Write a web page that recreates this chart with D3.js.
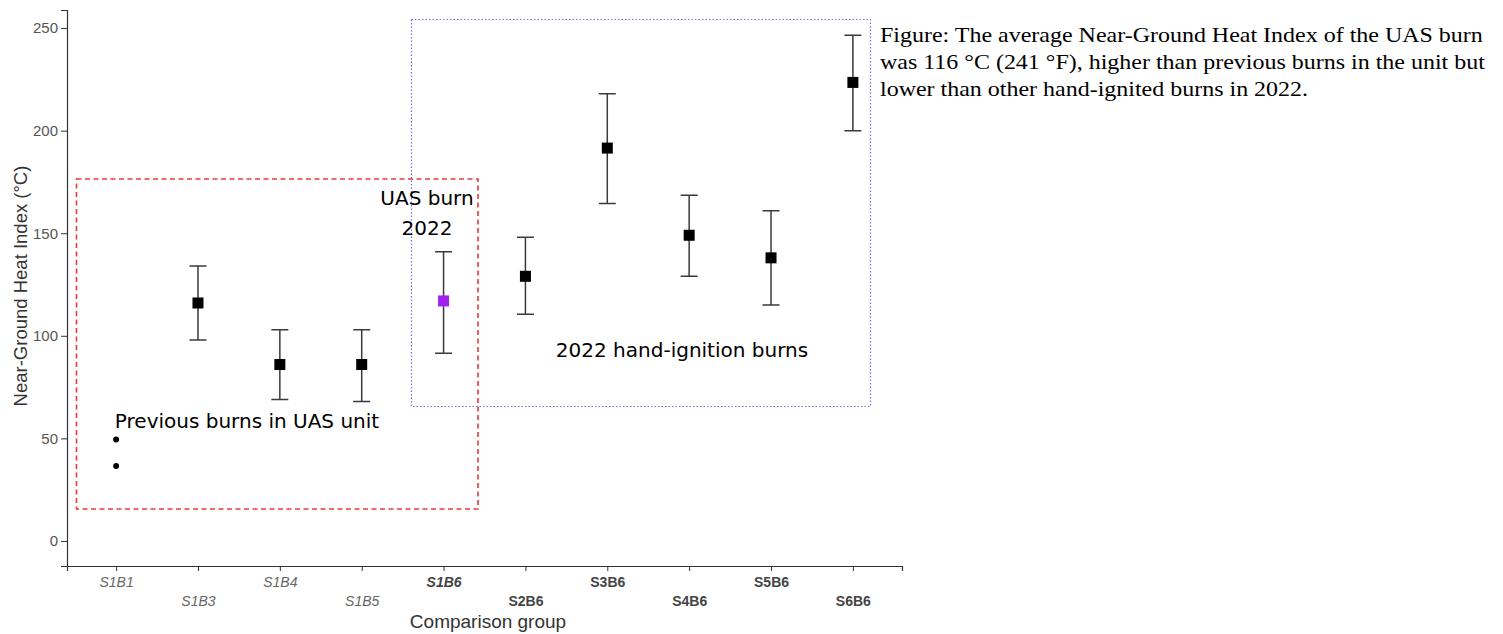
<!DOCTYPE html>
<html>
<head>
<meta charset="utf-8">
<script src="https://cdn.jsdelivr.net/npm/d3@7"></script>
<style>
  body { margin: 0; background: #fff; }
  svg { display: block; }
</style>
</head>
<body>
<div id="chart"></div>
<script>
// Comparison groups and their near-ground heat index (°C)
const groups = ["S1B1", "S1B3", "S1B4", "S1B5", "S1B6", "S2B6", "S3B6", "S4B6", "S5B6", "S6B6"];
const means  = [null, 116, 86, 86, 117, 129, 191.5, 149, 138, 223.5];
const lower  = [null, 98, 69, 68, 91.5, 110.5, 164.5, 129, 115, 200];
const upper  = [null, 134, 103, 103, 141, 148, 218, 168.5, 161, 246.5];
// S1B1 only has single observations
const s1b1Points = [49.5, 36.5];
const yTicks = [0, 50, 100, 150, 200, 250];

const W = 1503, H = 634;
const axisFont = "'Liberation Sans', Arial, sans-serif";

const svg = d3.select("#chart")
  .append("svg")
  .attr("width", W)
  .attr("height", H);

// Scales (discrete x with ggplot-like expansion)
const x = d3.scalePoint()
  .domain(groups)
  .range([67, 902])
  .padding(0.6);

const y = d3.scaleLinear()
  .domain([-12.2, 258.8])
  .range([566, 10]);

// Y axis
const yAxis = svg.append("g")
  .attr("transform", "translate(67,0)")
  .call(d3.axisLeft(y).tickValues(yTicks).tickSize(6).tickPadding(3));
yAxis.select(".domain").attr("stroke", "#333").attr("stroke-width", 1.2);
yAxis.selectAll(".tick line").attr("stroke", "#333");
yAxis.selectAll("text")
  .attr("fill", "#555")
  .style("font-family", axisFont)
  .style("font-size", "15px");

// X axis, labels staggered over two rows
const xAxis = svg.append("g")
  .attr("transform", "translate(0,566)")
  .call(d3.axisBottom(x).tickSize(5));
xAxis.select(".domain").attr("stroke", "#333").attr("stroke-width", 1.2);
xAxis.selectAll(".tick line").attr("stroke", "#333");
xAxis.selectAll("text")
  .attr("y", (d, i) => i % 2 === 0 ? 21 : 40)
  .attr("dy", 0)
  .attr("fill", d => d.startsWith("S1B") && d !== "S1B6" ? "#666" : "#444")
  .style("font-family", axisFont)
  .style("font-size", "14px")
  .style("font-style", d => d.startsWith("S1B") ? "italic" : "normal")
  .style("font-weight", d => d.startsWith("S1B") && d !== "S1B6" ? "normal" : "bold");

// Axis titles
svg.append("text")
  .attr("x", 488)
  .attr("y", 628)
  .attr("text-anchor", "middle")
  .attr("fill", "#333")
  .style("font-family", axisFont)
  .style("font-size", "19px")
  .text("Comparison group");

svg.append("text")
  .attr("transform", "rotate(-90)")
  .attr("x", -286)
  .attr("y", 27)
  .attr("text-anchor", "middle")
  .attr("fill", "#333")
  .style("font-family", axisFont)
  .style("font-size", "18.5px")
  .text("Near-Ground Heat Index (°C)");

// Annotation boxes
svg.append("rect")
  .attr("x", 411.5).attr("y", 19.5)
  .attr("width", 459).attr("height", 387)
  .attr("fill", "none")
  .attr("stroke", "#7070ee")
  .attr("stroke-width", 1.2)
  .attr("stroke-dasharray", "1.5,2");

svg.append("rect")
  .attr("x", 76.5).attr("y", 179)
  .attr("width", 401.5).attr("height", 330)
  .attr("fill", "none")
  .attr("stroke", "#e83a3a")
  .attr("stroke-width", 1.6)
  .attr("stroke-dasharray", "5,3.5");

// Error bars
const bars = groups.map((g, i) => ({ g, mean: means[i], lo: lower[i], hi: upper[i] }))
  .filter(d => d.mean !== null);

const capW = 17;
svg.selectAll(".err")
  .data(bars)
  .enter()
  .append("path")
  .attr("class", "err")
  .attr("fill", "none")
  .attr("stroke", "#3a3a3a")
  .attr("stroke-width", 1.5)
  .attr("d", d => {
    const cx = x(d.g);
    return `M${cx - capW / 2},${y(d.hi)}H${cx + capW / 2}` +
           `M${cx},${y(d.hi)}V${y(d.lo)}` +
           `M${cx - capW / 2},${y(d.lo)}H${cx + capW / 2}`;
  });

// Mean squares
const sq = 11;
svg.selectAll(".mean")
  .data(bars)
  .enter()
  .append("rect")
  .attr("class", "mean")
  .attr("x", d => x(d.g) - sq / 2)
  .attr("y", d => y(d.mean) - sq / 2)
  .attr("width", sq)
  .attr("height", sq)
  .attr("fill", d => d.g === "S1B6" ? "#a020f0" : "#000");

// S1B1 points
svg.selectAll(".pt")
  .data(s1b1Points)
  .enter()
  .append("circle")
  .attr("class", "pt")
  .attr("cx", x("S1B1"))
  .attr("cy", d => y(d))
  .attr("r", 3)
  .attr("fill", "#000");

// Annotation labels
const ann = [
  { t: "UAS burn", x: 427, y: 205 },
  { t: "2022", x: 427, y: 235 },
  { t: "Previous burns in UAS unit", x: 247, y: 428 },
  { t: "2022 hand-ignition burns", x: 682, y: 357 }
];
svg.selectAll(".ann")
  .data(ann)
  .enter()
  .append("text")
  .attr("class", "ann")
  .attr("x", d => d.x)
  .attr("y", d => d.y)
  .attr("text-anchor", "middle")
  .attr("fill", "#000")
  .style("font-family", "'DejaVu Sans', sans-serif")
  .style("font-size", "20px")
  .text(d => d.t);

// Caption (serif, slightly stretched like the pasted image)
const caption = [
  "Figure: The average Near-Ground Heat Index of the UAS burn",
  "was 116 °C (241 °F), higher than previous burns in the unit but",
  "lower than other hand-ignited burns in 2022."
];
const cap = svg.append("g");
cap.selectAll("text")
  .data(caption)
  .enter()
  .append("text")
  .attr("x", 0)
  .attr("y", (d, i) => 42 + i * 27)
  .attr("fill", "#000")
  .style("font-family", "'Liberation Serif', 'Times New Roman', serif")
  .style("font-size", "21.5px")
  .text(d => d);
const firstW = cap.select("text").node().getComputedTextLength();
cap.attr("transform", `translate(880,0) scale(${603 / firstW},1)`);
</script>
</body>
</html>
